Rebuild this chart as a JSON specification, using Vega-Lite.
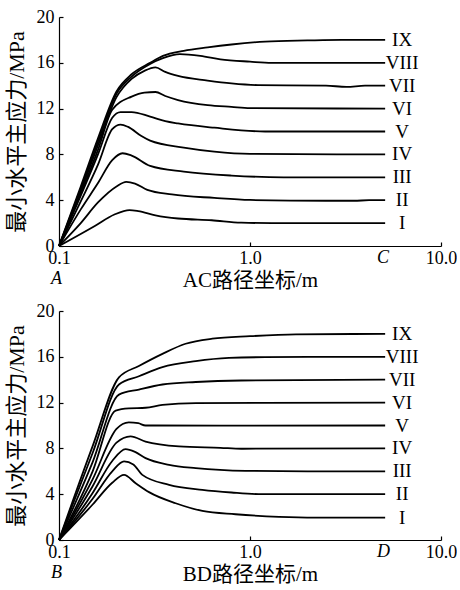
{
  "$schema": "https://vega.github.io/schema/vega-lite/v6.json",
  "padding": {"left": 5, "top": 8, "right": 0, "bottom": 0},
  "background": "white",
  "config": {
    "view": {"stroke": null},
    "font": "'Liberation Serif', 'Noto Sans CJK SC'",
    "axis": {
      "grid": false,
      "domainColor": "black",
      "domainWidth": 1.2,
      "tickColor": "black",
      "tickWidth": 1.2,
      "tickSize": -4,
      "labelFlush": false,
      "labelColor": "black",
      "labelFont": "Liberation Serif",
      "labelFontSize": 18,
      "titleColor": "black",
      "titleFont": "'Liberation Serif', 'Noto Sans CJK SC'",
      "titleFontSize": 21,
      "titleFontWeight": "normal"
    },
    "axisX": {"labelPadding": 7},
    "axisY": {"labelPadding": 9, "titleFontSize": 22}
  },
  "datasets": {
    "ac": [
      {"s":"I","x":0.1,"y":0},{"s":"I","x":0.154,"y":1.75},{"s":"I","x":0.195,"y":2.75},{"s":"I","x":0.234,"y":3.14},{"s":"I","x":0.26,"y":3.05},{"s":"I","x":0.32,"y":2.68},{"s":"I","x":0.42,"y":2.4},{"s":"I","x":0.63,"y":2.25},{"s":"I","x":0.9,"y":2.04},{"s":"I","x":1.3,"y":2.0},{"s":"I","x":5.1,"y":2.0},
      {"s":"II","x":0.1,"y":0},{"s":"II","x":0.13,"y":2.0},{"s":"II","x":0.16,"y":3.8},{"s":"II","x":0.2,"y":5.2},{"s":"II","x":0.225,"y":5.6},{"s":"II","x":0.25,"y":5.45},{"s":"II","x":0.29,"y":4.9},{"s":"II","x":0.39,"y":4.5},{"s":"II","x":0.65,"y":4.2},{"s":"II","x":1.0,"y":4.02},{"s":"II","x":2.5,"y":3.95},{"s":"II","x":3.5,"y":3.95},{"s":"II","x":4.2,"y":4.0},{"s":"II","x":5.1,"y":4.0},
      {"s":"III","x":0.1,"y":0},{"s":"III","x":0.13,"y":3.2},{"s":"III","x":0.16,"y":5.5},{"s":"III","x":0.19,"y":7.5},{"s":"III","x":0.215,"y":8.1},{"s":"III","x":0.24,"y":7.9},{"s":"III","x":0.3,"y":7.0},{"s":"III","x":0.45,"y":6.5},{"s":"III","x":0.8,"y":6.15},{"s":"III","x":1.5,"y":6.0},{"s":"III","x":5.1,"y":6.0},
      {"s":"IV","x":0.1,"y":0},{"s":"IV","x":0.13,"y":3.9},{"s":"IV","x":0.16,"y":7.1},{"s":"IV","x":0.19,"y":10.2},{"s":"IV","x":0.21,"y":10.6},{"s":"IV","x":0.23,"y":10.4},{"s":"IV","x":0.27,"y":9.6},{"s":"IV","x":0.3,"y":9.2},{"s":"IV","x":0.45,"y":8.6},{"s":"IV","x":0.65,"y":8.25},{"s":"IV","x":1.0,"y":8.05},{"s":"IV","x":5.1,"y":8.0},
      {"s":"V","x":0.1,"y":0},{"s":"V","x":0.13,"y":4.4},{"s":"V","x":0.16,"y":8.0},{"s":"V","x":0.19,"y":11.2},{"s":"V","x":0.21,"y":11.7},{"s":"V","x":0.24,"y":11.7},{"s":"V","x":0.3,"y":11.3},{"s":"V","x":0.36,"y":10.9},{"s":"V","x":0.42,"y":10.7},{"s":"V","x":0.65,"y":10.33},{"s":"V","x":1.2,"y":10.0},{"s":"V","x":5.1,"y":10.0},
      {"s":"VI","x":0.1,"y":0},{"s":"VI","x":0.13,"y":4.6},{"s":"VI","x":0.16,"y":8.4},{"s":"VI","x":0.19,"y":11.9},{"s":"VI","x":0.24,"y":13.05},{"s":"VI","x":0.28,"y":13.4},{"s":"VI","x":0.32,"y":13.45},{"s":"VI","x":0.36,"y":13.1},{"s":"VI","x":0.42,"y":12.75},{"s":"VI","x":0.6,"y":12.3},{"s":"VI","x":0.8,"y":12.15},{"s":"VI","x":1.0,"y":12.05},{"s":"VI","x":5.1,"y":12.0},
      {"s":"VII","x":0.1,"y":0},{"s":"VII","x":0.13,"y":4.8},{"s":"VII","x":0.16,"y":8.8},{"s":"VII","x":0.2,"y":13.0},{"s":"VII","x":0.24,"y":14.6},{"s":"VII","x":0.28,"y":15.3},{"s":"VII","x":0.32,"y":15.6},{"s":"VII","x":0.36,"y":15.2},{"s":"VII","x":0.42,"y":14.85},{"s":"VII","x":0.6,"y":14.45},{"s":"VII","x":0.8,"y":14.2},{"s":"VII","x":1.1,"y":14.05},{"s":"VII","x":2.5,"y":14.0},{"s":"VII","x":3.2,"y":13.9},{"s":"VII","x":4.0,"y":14.0},{"s":"VII","x":5.1,"y":14.0},
      {"s":"VIII","x":0.1,"y":0},{"s":"VIII","x":0.13,"y":5.0},{"s":"VIII","x":0.16,"y":9.1},{"s":"VIII","x":0.2,"y":13.3},{"s":"VIII","x":0.24,"y":14.8},{"s":"VIII","x":0.3,"y":15.9},{"s":"VIII","x":0.35,"y":16.4},{"s":"VIII","x":0.43,"y":16.75},{"s":"VIII","x":0.55,"y":16.6},{"s":"VIII","x":0.7,"y":16.3},{"s":"VIII","x":1.0,"y":16.1},{"s":"VIII","x":1.3,"y":16.0},{"s":"VIII","x":5.1,"y":16.0},
      {"s":"IX","x":0.1,"y":0},{"s":"IX","x":0.13,"y":5.2},{"s":"IX","x":0.16,"y":9.4},{"s":"IX","x":0.2,"y":13.5},{"s":"IX","x":0.24,"y":15.0},{"s":"IX","x":0.3,"y":16.0},{"s":"IX","x":0.35,"y":16.6},{"s":"IX","x":0.45,"y":17.05},{"s":"IX","x":0.6,"y":17.35},{"s":"IX","x":0.8,"y":17.6},{"s":"IX","x":1.2,"y":17.85},{"s":"IX","x":2.0,"y":17.95},{"s":"IX","x":3.0,"y":18.0},{"s":"IX","x":5.1,"y":18.0}
    ],
    "bd": [
      {"s":"I","x":0.1,"y":0},{"s":"I","x":0.15,"y":3.1},{"s":"I","x":0.19,"y":5.0},{"s":"I","x":0.219,"y":5.69},{"s":"I","x":0.252,"y":4.96},{"s":"I","x":0.296,"y":4.18},{"s":"I","x":0.408,"y":3.21},{"s":"I","x":0.563,"y":2.54},{"s":"I","x":0.84,"y":2.25},{"s":"I","x":1.42,"y":2.02},{"s":"I","x":2.2,"y":1.95},{"s":"I","x":5.1,"y":1.95},
      {"s":"II","x":0.1,"y":0},{"s":"II","x":0.15,"y":3.6},{"s":"II","x":0.19,"y":6.0},{"s":"II","x":0.219,"y":6.86},{"s":"II","x":0.245,"y":6.6},{"s":"II","x":0.273,"y":5.69},{"s":"II","x":0.377,"y":4.82},{"s":"II","x":0.563,"y":4.38},{"s":"II","x":0.8,"y":4.15},{"s":"II","x":1.16,"y":4.0},{"s":"II","x":5.1,"y":4.0},
      {"s":"III","x":0.1,"y":0},{"s":"III","x":0.15,"y":4.1},{"s":"III","x":0.19,"y":6.9},{"s":"III","x":0.223,"y":7.94},{"s":"III","x":0.25,"y":7.7},{"s":"III","x":0.284,"y":7.15},{"s":"III","x":0.377,"y":6.57},{"s":"III","x":0.52,"y":6.28},{"s":"III","x":0.95,"y":6.04},{"s":"III","x":2.0,"y":6.0},{"s":"III","x":5.1,"y":6.0},
      {"s":"IV","x":0.1,"y":0},{"s":"IV","x":0.15,"y":4.7},{"s":"IV","x":0.2,"y":8.5},{"s":"IV","x":0.237,"y":9.05},{"s":"IV","x":0.284,"y":8.6},{"s":"IV","x":0.425,"y":8.18},{"s":"IV","x":0.7,"y":8.05},{"s":"IV","x":0.9,"y":7.97},{"s":"IV","x":5.1,"y":8.0},
      {"s":"V","x":0.1,"y":0},{"s":"V","x":0.15,"y":5.3},{"s":"V","x":0.2,"y":9.7},{"s":"V","x":0.232,"y":10.28},{"s":"V","x":0.26,"y":10.2},{"s":"V","x":0.284,"y":10.0},{"s":"V","x":0.7,"y":9.99},{"s":"V","x":5.1,"y":10.0},
      {"s":"VI","x":0.1,"y":0},{"s":"VI","x":0.15,"y":6.0},{"s":"VI","x":0.198,"y":11.3},{"s":"VI","x":0.232,"y":11.5},{"s":"VI","x":0.284,"y":11.55},{"s":"VI","x":0.348,"y":11.8},{"s":"VI","x":0.52,"y":11.95},{"s":"VI","x":5.1,"y":12.0},
      {"s":"VII","x":0.1,"y":0},{"s":"VII","x":0.15,"y":6.8},{"s":"VII","x":0.206,"y":12.7},{"s":"VII","x":0.262,"y":13.14},{"s":"VII","x":0.348,"y":13.58},{"s":"VII","x":0.52,"y":13.8},{"s":"VII","x":0.9,"y":13.93},{"s":"VII","x":5.1,"y":14.0},
      {"s":"VIII","x":0.1,"y":0},{"s":"VIII","x":0.15,"y":7.6},{"s":"VIII","x":0.206,"y":13.58},{"s":"VIII","x":0.262,"y":14.3},{"s":"VIII","x":0.348,"y":15.1},{"s":"VIII","x":0.52,"y":15.62},{"s":"VIII","x":0.776,"y":15.9},{"s":"VIII","x":1.2,"y":15.97},{"s":"VIII","x":5.1,"y":16.0},
      {"s":"IX","x":0.1,"y":0},{"s":"IX","x":0.15,"y":8.2},{"s":"IX","x":0.206,"y":14.2},{"s":"IX","x":0.262,"y":15.2},{"s":"IX","x":0.348,"y":16.26},{"s":"IX","x":0.46,"y":17.14},{"s":"IX","x":0.635,"y":17.58},{"s":"IX","x":1.0,"y":17.8},{"s":"IX","x":1.74,"y":17.96},{"s":"IX","x":5.1,"y":18.0}
    ],
    "pts1": [{"t":"A","x":0.097,"y":-3.3},{"t":"C","x":4.97,"y":-1.45}],
    "pts2": [{"t":"B","x":0.097,"y":-3.3},{"t":"D","x":5.0,"y":-1.45}]
  },
  "vconcat": [
    {
      "width": 382,
      "height": 229,
      "layer": [
        {
          "data": {"name": "ac"},
          "mark": {"type": "line", "color": "black", "strokeWidth": 1.8, "interpolate": "monotone"},
          "encoding": {
            "x": {"field": "x", "type": "quantitative", "scale": {"type": "log", "domain": [0.1, 10]},
                  "axis": {"values": [0.1, 1, 10], "format": ".1f", "title": "AC路径坐标/m", "titlePadding": 2}},
            "y": {"field": "y", "type": "quantitative", "scale": {"domain": [0, 20]},
                  "axis": {"values": [0, 4, 8, 12, 16, 20], "title": "最小水平主应力/MPa", "titlePadding": 8}},
            "detail": {"field": "s"}
          }
        },
        {
          "data": {"name": "ac"},
          "transform": [{"filter": "datum.x >= 5.1"}],
          "mark": {"type": "text", "font": "Liberation Serif", "fontSize": 19, "dx": 17, "align": "center", "baseline": "middle", "color": "black"},
          "encoding": {
            "x": {"field": "x", "type": "quantitative"},
            "y": {"field": "y", "type": "quantitative"},
            "text": {"field": "s"}
          }
        },
        {
          "data": {"name": "pts1"},
          "mark": {"type": "text", "font": "Liberation Serif", "fontSize": 18, "fontStyle": "italic", "align": "center", "baseline": "alphabetic", "color": "black"},
          "encoding": {
            "x": {"field": "x", "type": "quantitative"},
            "y": {"field": "y", "type": "quantitative"},
            "text": {"field": "t"}
          }
        }
      ]
    },
    {
      "width": 382,
      "height": 229,
      "layer": [
        {
          "data": {"name": "bd"},
          "mark": {"type": "line", "color": "black", "strokeWidth": 1.8, "interpolate": "monotone"},
          "encoding": {
            "x": {"field": "x", "type": "quantitative", "scale": {"type": "log", "domain": [0.1, 10]},
                  "axis": {"values": [0.1, 1, 10], "format": ".1f", "title": "BD路径坐标/m", "titlePadding": 2}},
            "y": {"field": "y", "type": "quantitative", "scale": {"domain": [0, 20]},
                  "axis": {"values": [0, 4, 8, 12, 16, 20], "title": "最小水平主应力/MPa", "titlePadding": 8}},
            "detail": {"field": "s"}
          }
        },
        {
          "data": {"name": "bd"},
          "transform": [{"filter": "datum.x >= 5.1"}],
          "mark": {"type": "text", "font": "Liberation Serif", "fontSize": 19, "dx": 17, "align": "center", "baseline": "middle", "color": "black"},
          "encoding": {
            "x": {"field": "x", "type": "quantitative"},
            "y": {"field": "y", "type": "quantitative"},
            "text": {"field": "s"}
          }
        },
        {
          "data": {"name": "pts2"},
          "mark": {"type": "text", "font": "Liberation Serif", "fontSize": 18, "fontStyle": "italic", "align": "center", "baseline": "alphabetic", "color": "black"},
          "encoding": {
            "x": {"field": "x", "type": "quantitative"},
            "y": {"field": "y", "type": "quantitative"},
            "text": {"field": "t"}
          }
        }
      ]
    }
  ],
  "spacing": 65,
  "bounds": "flush"
}
